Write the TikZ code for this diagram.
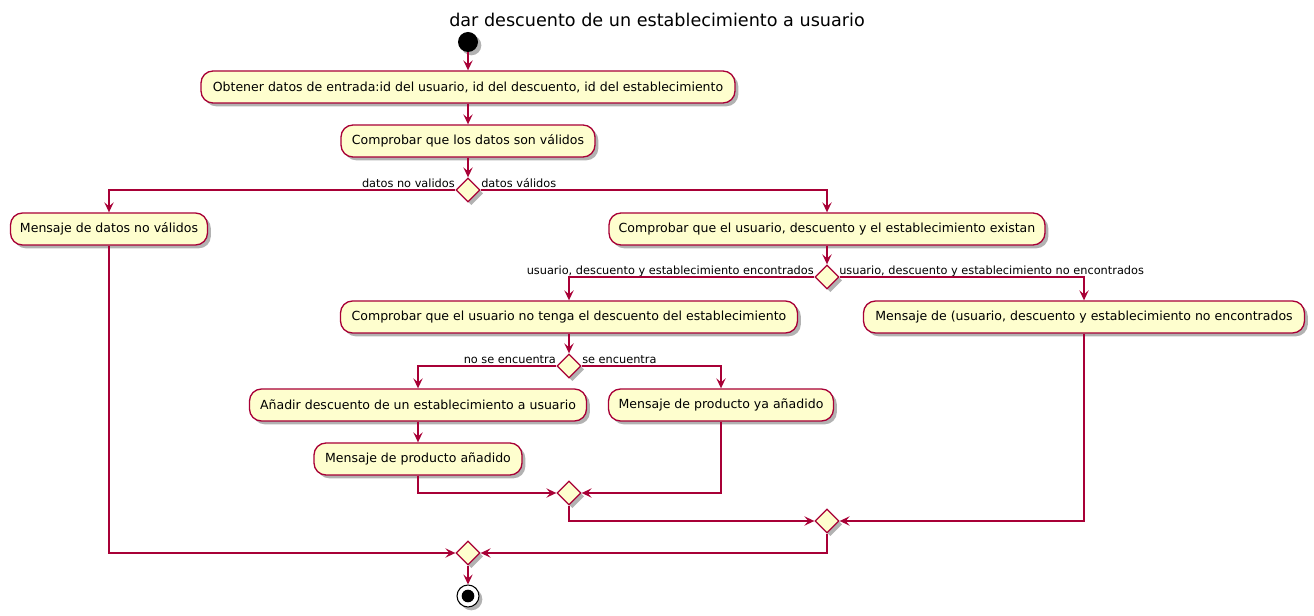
\documentclass[tikz,border=0pt]{standalone}
\usepackage{fontspec}
\setmainfont{DejaVu Sans}
\usetikzlibrary{shapes.geometric,arrows.meta,shadows}
\definecolor{pred}{HTML}{A80036}
\definecolor{pfill}{HTML}{FEFECE}
\begin{document}
\begin{tikzpicture}[x=0.75pt,y=-0.75pt,
  shad/.style={drop shadow={shadow xshift=2.5pt,shadow yshift=-2.5pt,opacity=0.3,fill=black}},
  act/.style={draw=pred,fill=pfill,line width=1pt,rounded corners=9pt,minimum height=24pt,
    inner xsep=3pt,inner ysep=0pt,font=\fontsize{9.4}{11}\selectfont,shad},
  dec/.style={diamond,draw=pred,fill=pfill,line width=1pt,minimum width=18pt,minimum height=18pt,
    inner sep=0pt,shad},
  arr/.style={draw=pred,line width=1pt,-{Stealth[length=7.5pt,width=7pt,inset=3pt]}},
  lbl/.style={inner sep=0pt,font=\fontsize{8.5}{10}\selectfont}]
\useasboundingbox (0,0) rectangle (1314,616);
\node[font=\fontsize{13.2}{16}\selectfont] (title) at (657,20) {dar descuento de un establecimiento a usuario};
\node[circle,fill=black,minimum size=15pt,inner sep=0pt,shad] (start) at (468,42) {};
\node[act,minimum width=400.5pt] (b1) at (468,87) {Obtener datos de entrada:id del usuario, id del descuento, id del establecimiento};
\node[act,minimum width=190.5pt] (b2) at (468,141) {Comprobar que los datos son válidos};
\node[dec] (d1) at (468,190) {};
\node[act,minimum width=147.75pt] (bl) at (109,229) {Mensaje de datos no válidos};
\node[act,minimum width=327pt] (br1) at (827,229) {Comprobar que el usuario, descuento y el establecimiento existan};
\node[dec] (d2) at (827,277) {};
\node[act,minimum width=342.75pt] (b3) at (569,317) {Comprobar que el usuario no tenga el descuento del establecimiento};
\node[act,minimum width=330.75pt] (br2) at (1084,317) {Mensaje de (usuario, descuento y establecimiento no encontrados};
\node[dec] (d3) at (569,366) {};
\node[act,minimum width=252.75pt] (b4) at (418,405) {Añadir descuento de un establecimiento a usuario};
\node[act,minimum width=168.75pt] (b6) at (721,405) {Mensaje de producto ya añadido};
\node[act,minimum width=156pt] (b5) at (418,459) {Mensaje de producto añadido};
\node[dec] (d4) at (569,493) {};
\node[dec] (d5) at (827,521) {};
\node[dec] (d6) at (468,553) {};
\node[circle,draw=black,fill=white,line width=0.8pt,minimum size=16.5pt,inner sep=0pt,shad] (stop) at (468,596) {};
\node[circle,fill=black,minimum size=9.5pt,inner sep=0pt] (stopin) at (stop.center) {};
\node[lbl,anchor=base east] (l1) at (455,188) {datos no validos};
\node[lbl,anchor=base west] (l2) at (481,188) {datos válidos};
\node[lbl,anchor=base east] (l3) at (814,275) {usuario, descuento y establecimiento encontrados};
\node[lbl,anchor=base west] (l4) at (839,275) {usuario, descuento y establecimiento no encontrados};
\node[lbl,anchor=base east] (l5) at (556,364) {no se encuentra};
\node[lbl,anchor=base west] (l6) at (582,364) {se encuentra};
\draw[arr] (start) -- (b1);
\draw[arr] (b1) -- (b2);
\draw[arr] (b2) -- (d1);
\draw[arr] (d1.west) -| (bl.north);
\draw[arr] (d1.east) -| (br1.north);
\draw[arr] (br1) -- (d2);
\draw[arr] (d2.west) -| (b3.north);
\draw[arr] (d2.east) -| (br2.north);
\draw[arr] (b3) -- (d3);
\draw[arr] (d3.west) -| (b4.north);
\draw[arr] (d3.east) -| (b6.north);
\draw[arr] (b4) -- (b5);
\draw[arr] (b5.south) |- (d4.west);
\draw[arr] (b6.south) |- (d4.east);
\draw[arr] (d4.south) |- (d5.west);
\draw[arr] (br2.south) |- (d5.east);
\draw[arr] (bl.south) |- (d6.west);
\draw[arr] (d5.south) |- (d6.east);
\draw[arr] (d6) -- (stop);
\end{tikzpicture}
\end{document}
